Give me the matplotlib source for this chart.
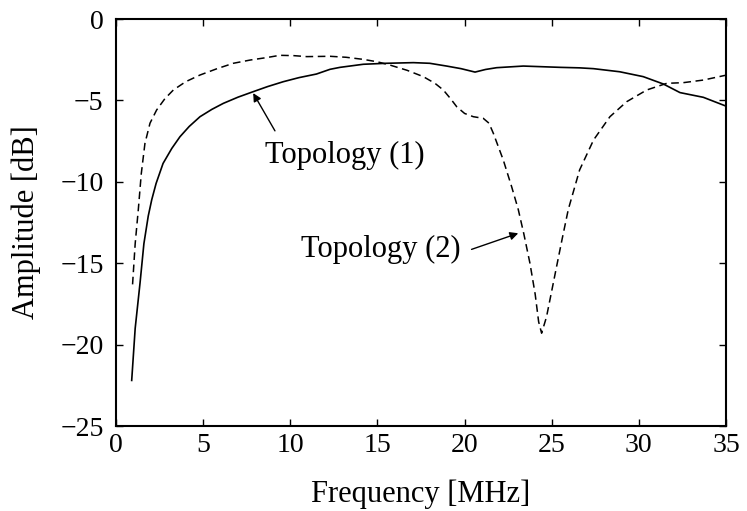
import numpy as np
import matplotlib
matplotlib.use("Agg")
import matplotlib.pyplot as plt

plt.rcParams["font.family"] = ["Liberation Serif", "DejaVu Serif"]

# Topology (1) - solid line
freq_1 = [0.9, 1.1, 1.38, 1.6, 1.85, 2.05, 2.3, 2.7, 3.2, 3.67, 4.2, 4.82, 5.5, 6.16,
          7.0, 7.88, 8.7, 9.6, 10.5, 11.5, 12.28, 12.85, 14.19, 15.5, 17.06, 18.0,
          18.97, 19.8, 20.6, 21.2, 21.84, 23.37, 25.5, 26.6, 27.4, 28.9, 30.25,
          31.4, 32.36, 33.7, 35.0]
amp_1 = [-22.2, -19.0, -16.2, -13.8, -12.1, -11.1, -10.1, -8.87, -7.95, -7.23, -6.6,
         -6.0, -5.55, -5.18, -4.8, -4.46, -4.15, -3.85, -3.6, -3.38, -3.09, -2.97,
         -2.78, -2.72, -2.68, -2.72, -2.89, -3.05, -3.26, -3.1, -2.99, -2.89, -2.97,
         -3.0, -3.05, -3.24, -3.54, -3.99, -4.52, -4.81, -5.35]

# Topology (2) - dashed line
freq_2 = [0.95, 1.1, 1.28, 1.45, 1.66, 1.95, 2.33, 2.8, 3.29, 4.0, 4.82, 5.8, 6.73,
          7.7, 8.64, 9.4, 10.2, 10.94, 12.28, 13.2, 14.19, 15.0, 15.72, 16.7, 17.63,
          18.3, 18.78, 19.2, 19.55, 20.0, 20.5, 21.07, 21.4, 21.65, 22.22, 22.7,
          23.08, 23.4, 23.75, 24.05, 24.25, 24.42, 24.7, 25.0, 25.28, 25.6, 25.95,
          26.6, 27.4, 28.34, 29.3, 30.45, 31.6, 32.55, 33.7, 35.0]
amp_2 = [-16.3, -13.8, -11.7, -9.5, -7.64, -6.4, -5.59, -4.9, -4.36, -3.85, -3.44,
         -3.05, -2.72, -2.52, -2.37, -2.23, -2.25, -2.31, -2.29, -2.35, -2.48,
         -2.63, -2.83, -3.15, -3.54, -3.95, -4.36, -4.9, -5.39, -5.8, -6.0, -6.1,
         -6.4, -7.02, -8.66, -10.3, -11.7, -13.2, -15.0, -16.9, -18.6, -19.3, -18.3,
         -16.7, -15.2, -13.5, -11.7, -9.27, -7.43, -6.0, -5.08, -4.36, -3.95, -3.91,
         -3.75, -3.45]

x_ticks = [0, 5, 10, 15, 20, 25, 30, 35]
y_ticks = [0, -5, -10, -15, -20, -25]
y_tick_labels = ["0", "\u22125", "\u221210", "\u221215", "\u221220", "\u221225"]

# annotation labels: (text, text anchor, arrow tail, arrow head)
labels = ["Topology (1)", "Topology (2)"]
label_pos = [(8.55, -8.85), (10.6, -14.6)]
arrow_tail = [(9.12, -6.87), (20.4, -14.15)]
arrow_head = [(7.87, -4.55), (23.08, -13.16)]

fig = plt.figure(figsize=(7.47, 5.11), dpi=100)
ax = fig.add_axes([0.1553, 0.1663, 0.8166, 0.7965])

ax.plot(freq_1, amp_1, color="black", linewidth=1.2, linestyle="-")
ax.plot(freq_2, amp_2, color="black", linewidth=1.1, linestyle=(0, (5, 3)))

ax.set_xlim(0, 35)
ax.set_ylim(-25, 0)
ax.set_xticks(x_ticks)
ax.set_yticks(y_ticks)
ax.set_yticklabels(y_tick_labels)
ax.tick_params(direction="in", top=True, right=True, length=5, width=1.0,
               labelsize=20)
ax.tick_params(axis="x", pad=5)
ax.tick_params(axis="y", pad=9)
for s in ax.spines.values():
    s.set_linewidth(1.5)

ax.set_xlabel("Frequency [MHz]", fontsize=22)
ax.xaxis.label.set_va("baseline")
ax.xaxis.set_label_coords(0.5, -0.186)
ax.set_ylabel("Amplitude [dB]", fontsize=22)
ax.yaxis.label.set_va("baseline")
ax.yaxis.set_label_coords(-0.135, 0.5)

for txt, pos, tail, head in zip(labels, label_pos, arrow_tail, arrow_head):
    ax.text(pos[0], pos[1], txt, fontsize=22, ha="left", va="baseline")
    ax.annotate("", xy=head, xytext=tail,
                arrowprops=dict(arrowstyle="-|>", color="black", lw=1.0,
                                mutation_scale=12, shrinkA=0, shrinkB=0))

fig.savefig("out.png", dpi=100)
